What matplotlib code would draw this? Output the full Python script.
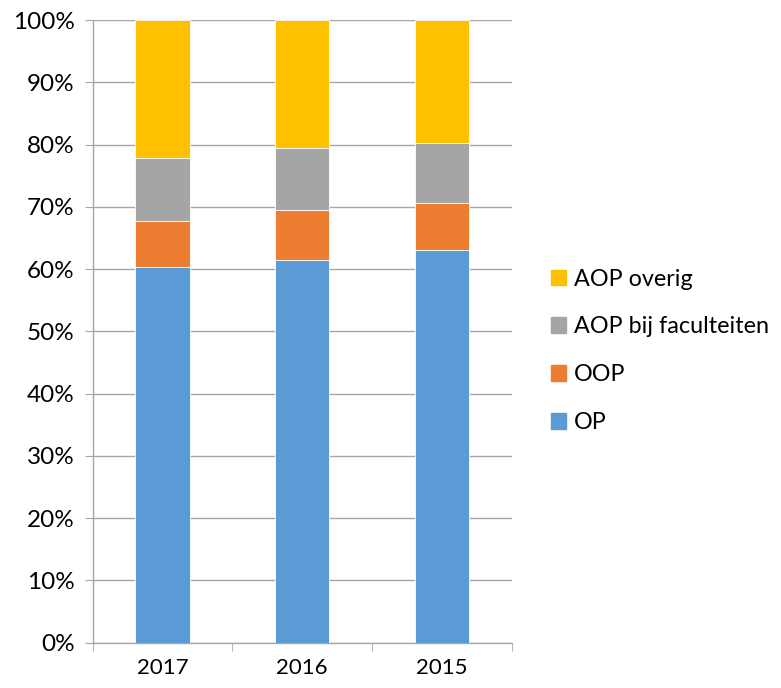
import matplotlib
matplotlib.use('Agg')
import matplotlib.pyplot as plt
from matplotlib.patches import Patch
import numpy as np

plt.rcParams['font.family'] = ['Lato', 'DejaVu Sans']

# Data (shares per category)
years = ['2017', '2016', '2015']
op = [60.4, 61.4, 63.0]
oop = [7.3, 8.1, 7.6]
aop_fac = [10.1, 9.9, 9.6]
aop_overig = [22.2, 20.6, 19.8]

series = [('OP', op, '#5B9BD5'),
          ('OOP', oop, '#ED7D31'),
          ('AOP bij faculteiten', aop_fac, '#A5A5A5'),
          ('AOP overig', aop_overig, '#FFC000')]

fig = plt.figure(figsize=(7.81, 6.88), dpi=100)
ax = fig.add_axes([0.1187, 0.0658, 0.5363, 0.905])

x = np.arange(len(years))
bottom = np.zeros(len(years))
for name, vals, col in series:
    ax.bar(x, vals, bottom=bottom, width=0.39, color=col, edgecolor='white', linewidth=0.6, zorder=3)
    bottom += np.array(vals)

ax.set_xlim(-0.5, len(years) - 0.5)
ax.set_ylim(0, 100)
ax.set_yticks(np.arange(0, 101, 10))
ax.set_yticklabels(['%d%%' % v for v in range(0, 101, 10)], fontsize=17.5)
ax.set_xticks(x)
ax.set_xticklabels(years, fontsize=16)
ax.set_xticks(np.arange(-0.5, len(years), 1), minor=True)
ax.tick_params(axis='x', which='major', length=0, pad=11)
ax.tick_params(axis='x', which='minor', length=6, color='#a6a6a6')
ax.tick_params(axis='y', length=6, color='#a6a6a6', pad=7)
ax.grid(axis='y', color='#a6a6a6', linewidth=1, zorder=0)
for s in ['top', 'right']:
    ax.spines[s].set_visible(False)
for s in ['left', 'bottom']:
    ax.spines[s].set_color('#a6a6a6')
    ax.spines[s].set_linewidth(1)

handles = [Patch(color=c, label=n) for n, v, c in series][::-1]
fig.legend(handles=handles, loc='center left', bbox_to_anchor=(0.705, 0.49),
           frameon=False, fontsize=16.8, handlelength=0.65, handleheight=0.65,
           handletextpad=0.35, labelspacing=1.15, borderaxespad=0,
           borderpad=0)

fig.savefig('out.png', dpi=100)
